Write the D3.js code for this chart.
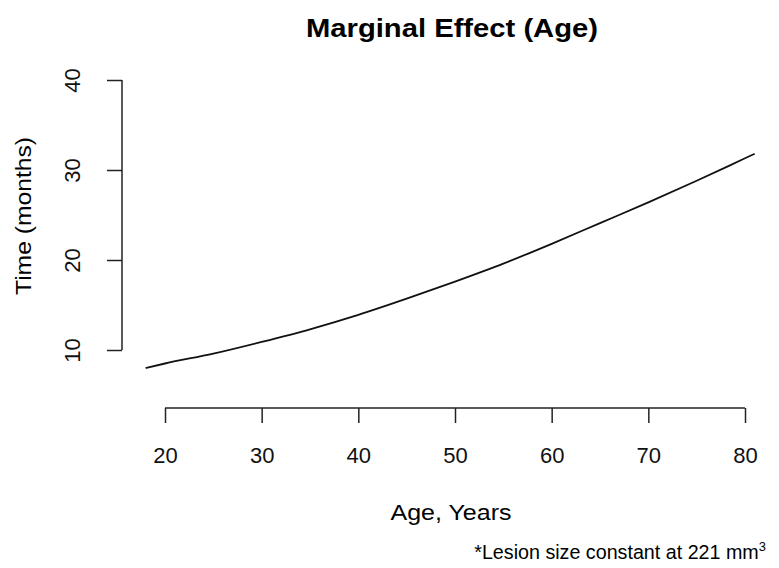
<!DOCTYPE html>
<html>
<head>
<meta charset="utf-8">
<script src="https://cdn.jsdelivr.net/npm/d3@7"></script>
<style>
  body { margin: 0; background: #fff; }
  svg { font-family: "Liberation Sans", Arial, sans-serif; }
</style>
</head>
<body>
<div class="chart"></div>
<script>
// values
const ages = [18, 20, 25, 30, 35, 40, 45, 50, 55, 60, 65, 70, 75, 80, 81];
const months = [8.0, 8.5, 9.6, 10.9, 12.3, 13.9, 15.7, 17.6, 19.6, 21.8, 24.1, 26.4, 28.8, 31.3, 31.8];
const xTicks = [20, 30, 40, 50, 60, 70, 80];
const yTicks = [10, 20, 30, 40];

const width = 779, height = 568;

const svg = d3.select(".chart").append("svg")
  .attr("width", width)
  .attr("height", height);

const x = d3.scaleLinear().domain([20, 80]).range([165, 745]);
const y = d3.scaleLinear().domain([10, 40]).range([350, 80]);

// x axis, R style (detached from plot)
const xAxis = svg.append("g")
  .attr("transform", "translate(0,408)")
  .call(d3.axisBottom(x).tickValues(xTicks).tickSize(15).tickPadding(24).tickSizeOuter(0));
xAxis.select(".domain").attr("d", `M${x(20)},0H${x(80)}`);
xAxis.selectAll("line, path").attr("stroke", "#222").attr("stroke-width", 1.5);
xAxis.selectAll("text").attr("font-size", 22).attr("fill", "#111")
  .attr("font-family", "Liberation Sans, Arial, sans-serif");

// y axis with rotated labels
const yAxis = svg.append("g")
  .attr("transform", "translate(122,0)")
  .call(d3.axisLeft(y).tickValues(yTicks).tickSize(15).tickSizeOuter(0));
yAxis.select(".domain").attr("d", `M0,${y(10)}V${y(40)}`);
yAxis.selectAll("line, path").attr("stroke", "#222").attr("stroke-width", 1.5);
yAxis.selectAll("text")
  .attr("font-size", 22).attr("fill", "#111")
  .attr("font-family", "Liberation Sans, Arial, sans-serif")
  .attr("x", 0).attr("y", 0).attr("dy", null)
  .attr("text-anchor", "middle")
  .attr("transform", "translate(-42,0) rotate(-90)");

// curve
const line = d3.line()
  .x((d, i) => x(ages[i]))
  .y(d => y(d))
  .curve(d3.curveMonotoneX);

svg.append("path")
  .datum(months)
  .attr("d", line)
  .attr("fill", "none")
  .attr("stroke", "#111")
  .attr("stroke-width", 1.8);

// titles
svg.append("text")
  .attr("x", 452).attr("y", 37)
  .attr("text-anchor", "middle")
  .attr("font-size", 25).attr("font-weight", "bold")
  .attr("textLength", 292).attr("lengthAdjust", "spacingAndGlyphs")
  .text("Marginal Effect (Age)");

svg.append("text")
  .attr("transform", "translate(31,216) rotate(-90)")
  .attr("text-anchor", "middle")
  .attr("font-size", 22)
  .attr("textLength", 158).attr("lengthAdjust", "spacingAndGlyphs")
  .text("Time (months)");

svg.append("text")
  .attr("x", 451).attr("y", 520)
  .attr("text-anchor", "middle")
  .attr("font-size", 22)
  .attr("textLength", 121).attr("lengthAdjust", "spacingAndGlyphs")
  .text("Age, Years");

const note = svg.append("text")
  .attr("x", 766).attr("y", 559)
  .attr("text-anchor", "end")
  .attr("font-size", 19.7);
note.append("tspan").text("*Lesion size constant at 221 mm");
note.append("tspan").attr("dy", -8).attr("font-size", 13).text("3");
</script>
</body>
</html>
